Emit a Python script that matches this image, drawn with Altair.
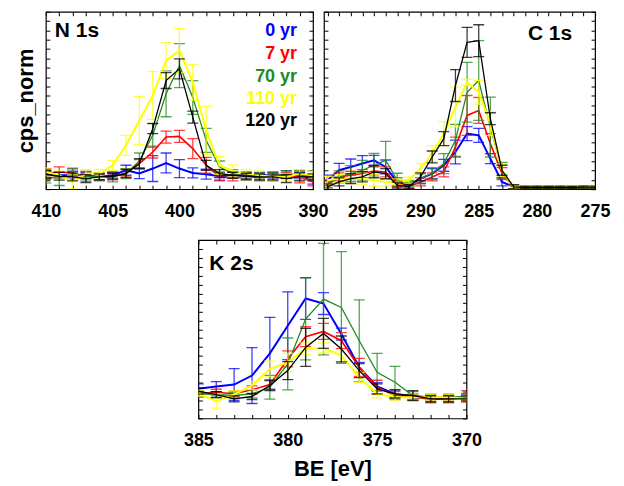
import altair as alt
import pandas as pd

SERIES = ["0 yr", "7 yr", "70 yr", "110 yr", "120 yr"]
COLORS = ["#0000ff", "#ff0000", "#1f8a1f", "#ffff00", "#000000"]
WIDTHS = [2.0, 1.6, 1.3, 2.0, 1.3]

# ---------------- N 1s ----------------
N1S_BE = [410, 409, 408, 407, 406, 405, 404, 403, 402, 401, 400,
          399, 398, 397, 396, 395, 394, 393, 392, 391, 390]
N1S_Y = {
    "0 yr":   [14, 14, 14, 14, 12.3, 14, 19, 15.7, 20.7, 26.3, 20.7, 16.3, 15, 13, 14, 14, 14, 14, 14.7, 14, 9],
    "7 yr":   [15.7, 17.3, 16.3, 13, 12.3, 12.3, 16.3, 25.7, 37.3, 52.3, 53, 40.7, 24, 12.3, 11.3, 12.3, 12.3, 12.3, 14, 12.3, 7.3],
    "70 yr":  [12.3, 10.7, 15, 13, 12.3, 12.3, 15.7, 28.3, 54, 95.7, 124, 92, 49, 22.3, 15.7, 13, 12.3, 13, 15.7, 14, 13],
    "110 yr": [17.3, 14, 7.3, 15.7, 15.7, 24, 44, 69, 94, 129, 139, 107.3, 59, 24, 18.3, 15.7, 14, 12.3, 12.3, 15.7, 14],
    "120 yr": [15, 13, 12.3, 10.7, 12.3, 13, 15.7, 25.7, 60.7, 109, 120.7, 72.3, 24, 15.7, 14, 13, 12.3, 12.3, 10.7, 12.3, 12.3],
}
N1S_ERR = {
    "0 yr":   [4, 3, 4, 3, 3, 3, 5, 5, 13, 10, 9, 5, 5, 4, 3, 3, 3, 3, 4, 3, 4],
    "7 yr":   [5, 5, 4, 3, 3, 3, 4, 4, 6, 6, 6, 10, 8, 4, 3, 3, 3, 4, 3, 6, 4],
    "70 yr":  [6, 7, 6, 5, 4, 5, 5, 8, 12, 23, 22, 17, 12, 6, 4, 4, 4, 4, 3, 5, 5],
    "110 yr": [4, 4, 7, 4, 4, 5, 10, 24, 24, 18, 22, 18, 24, 9, 6, 4, 4, 3, 3, 4, 4],
    "120 yr": [4, 4, 4, 4, 3, 3, 4, 5, 5, 8, 10, 6, 5, 4, 3, 3, 3, 3, 4, 4, 3],
}

# ---------------- C 1s ----------------
C1S_BE = [298, 297, 296, 295, 294, 293, 292, 291, 290, 289, 288, 287,
          286, 285, 284, 283, 282, 281, 280, 279, 278, 277, 276, 275]
C1S_Y = {
    "0 yr":   [9, 19, 22.3, 25.7, 29, 22.3, 7.3, 4, 10.7, 15.7, 24, 37.3, 55.7, 54, 30.7, 7.3, 2.3, 1.7, 1.7, 1.7, 1.7, 1.7, 1.7, 2],
    "7 yr":   [5.7, 12.3, 14, 15.7, 18.3, 17.3, 5.7, 3, 7.3, 12.3, 17.3, 42.3, 74, 79, 45.7, 15.7, 2.3, 1.7, 1.7, 1.7, 1.7, 1.7, 2.3, 2],
    "70 yr":  [4, 12.3, 15.7, 19, 24, 29, 9, 5.7, 10.7, 15.7, 25.7, 49, 97.3, 109, 62.3, 19, 2.3, 1.7, 1.7, 1.7, 1.7, 1.7, 2, 2.3],
    "110 yr": [9, 10.7, 10.7, 10.7, 9, 7.3, 7.3, 9, 20.7, 35.7, 55.7, 82.3, 107.3, 97.3, 65.7, 19, 1.7, 1.7, 1.7, 1.7, 1.7, 2, 2.3, 2.7],
    "120 yr": [2.3, 7.3, 10.7, 12.3, 17.3, 15.7, 4, 2.3, 12.3, 32.3, 50.7, 104, 147.3, 149, 70.7, 19, 2.3, 1.7, 1.7, 1.7, 1.7, 1.7, 2, 2],
}
C1S_ERR = {
    "0 yr":   [5, 7, 8, 8, 5, 7, 4, 3, 5, 5, 6, 12, 7, 7, 5, 4, 2, 1, 1, 1, 1, 1, 1, 1],
    "7 yr":   [4, 4, 4, 4, 4, 5, 3, 2, 4, 4, 5, 10, 20, 13, 10, 6, 2, 1, 1, 1, 1, 1, 1, 1],
    "70 yr":  [4, 6, 8, 10, 12, 19, 7, 3, 5, 6, 10, 16, 30, 40, 30, 8, 2, 1, 1, 1, 1, 1, 1, 1],
    "110 yr": [4, 4, 5, 6, 6, 4, 3, 3, 5, 8, 12, 20, 3, 12, 12, 6, 2, 1, 1, 1, 1, 1, 1, 1],
    "120 yr": [3, 4, 5, 5, 6, 5, 3, 2, 4, 6, 7, 16, 15, 16, 6, 5, 2, 1, 1, 1, 1, 1, 1, 1],
}

# ---------------- K 2s ----------------
K2S_BE = [385, 384, 383, 382, 381, 380, 379, 378, 377, 376, 375, 374, 373, 372, 371, 370]
K2S_Y = {
    "0 yr":   [29.7, 32, 34, 43, 65.3, 93, 120.3, 115.3, 84.7, 51.3, 32, 24.7, 21.3, 19.7, 19.7, 21.3],
    "7 yr":   [24.7, 26.3, 24.7, 28.7, 34, 59.7, 82, 87.3, 78, 51.3, 31.3, 23, 21.3, 19.7, 19.7, 23],
    "70 yr":  [24.7, 24, 23, 24.7, 31.3, 54.7, 99.7, 119.7, 111.3, 78, 46.3, 36.3, 23, 21.3, 21.3, 22],
    "110 yr": [25.3, 17.3, 24, 33, 49.7, 56.3, 69.7, 70.7, 63, 41.3, 24.7, 21.3, 21.3, 21.3, 21.3, 19.7],
    "120 yr": [27.3, 24, 19.7, 22, 33, 48, 71.3, 85.3, 69.7, 48, 29.7, 24.7, 23, 19.7, 19.7, 19.7],
}
K2S_ERR = {
    "0 yr":   [5, 5, 16, 28, 36, 34, 21, 11, 6, 5, 4, 4, 3, 3, 3, 3],
    "7 yr":   [3, 3, 3, 4, 5, 8, 10, 8, 8, 9, 7, 4, 3, 4, 4, 5],
    "70 yr":  [3, 3, 3, 4, 12, 26, 41, 56, 56, 41, 19, 16, 4, 3, 3, 3],
    "110 yr": [3, 7, 4, 4, 8, 9, 6, 5, 6, 5, 4, 3, 3, 3, 3, 3],
    "120 yr": [3, 3, 3, 3, 5, 9, 19, 15, 13, 7, 5, 4, 5, 3, 3, 3],
}

FONT = "Liberation Sans"


def panel(be, ys, errs, xdom, ymax, nyt, width, height, texts,
          ytitle=None, xtitle=None):
    xs = alt.Scale(domain=xdom, reverse=True, nice=False, zero=False)
    ysc = alt.Scale(domain=[0, ymax], nice=False, zero=False)
    lo_x = int(min(xdom)) if min(xdom) == int(min(xdom)) else int(min(xdom)) + 1
    xvals = list(range(lo_x, int(max(xdom)) + 1))
    yvals = [i * ymax / nyt for i in range(nyt + 1)]
    layers = []
    for name, color, w in zip(SERIES, COLORS, WIDTHS):
        df = pd.DataFrame({"BE": be, "v": ys[name]})
        df["lo"] = [a - b for a, b in zip(ys[name], errs[name])]
        df["hi"] = [a + b for a, b in zip(ys[name], errs[name])]
        eb = alt.Chart(df).mark_errorbar(
            ticks={"size": 11}, color=color, thickness=1.3, opacity=0.75, clip=True
        ).encode(
            x=alt.X("BE:Q", scale=xs, axis=None),
            y=alt.Y("lo:Q", scale=ysc, axis=None),
            y2="hi:Q",
        )
        ln = alt.Chart(df).mark_line(color=color, strokeWidth=w, clip=True).encode(
            x=alt.X("BE:Q", scale=xs, axis=None),
            y=alt.Y("v:Q", scale=ysc, axis=None),
        )
        layers += [eb, ln]

    base_df = pd.DataFrame({"BE": be, "v": ys[SERIES[0]]})
    common = dict(domain=False, tickSize=4, tickColor="black", tickWidth=1,
                  offset=-4, grid=False)
    xaxis = alt.Axis(orient="bottom", values=xvals,
                     labelExpr="datum.value % 5 === 0 ? datum.label : ''",
                     labelFont=FONT, labelFontWeight="bold", labelFontSize=18,
                     labelColor="black", labelPadding=13, labelFlush=False,
                     labelOverlap=False, labelBound=False,
                     titleFont=FONT, titleFontWeight="bold", titleFontSize=22,
                     titleColor="black", titlePadding=9, **common)
    yaxis = alt.Axis(orient="left", values=yvals, labels=False,
                     titleFont=FONT, titleFontWeight="bold", titleFontSize=22,
                     titleColor="black", titlePadding=8, **common)
    axes1 = alt.Chart(base_df).mark_point(opacity=0).encode(
        x=alt.X("BE:Q", scale=xs, axis=xaxis, title=xtitle),
        y=alt.Y("v:Q", scale=ysc, axis=yaxis, title=ytitle),
    )
    axes2 = alt.Chart(base_df).mark_point(opacity=0).encode(
        x=alt.X("BE:Q", scale=xs, title=None,
                axis=alt.Axis(orient="top", values=xvals, labels=False, **common)),
        y=alt.Y("v:Q", scale=ysc, title=None,
                axis=alt.Axis(orient="right", values=yvals, labels=False, **common)),
    )
    layers += [axes1, axes2]
    for t, color, x, y, align, size in texts:
        layers.append(
            alt.Chart(base_df.head(1)).mark_text(
                font=FONT, fontWeight="bold", fontSize=size, color=color,
                align=align, baseline="alphabetic"
            ).encode(x=alt.value(x), y=alt.value(y), text=alt.value(t))
        )
    return alt.layer(*layers).resolve_axis(x="independent", y="independent").properties(
        width=width, height=height)


n1s_texts = [("N 1s", "black", 9, 25, "left", 21)]
legend_y = [24, 47, 70, 93, 115]
for name, color, yy in zip(SERIES, COLORS, legend_y):
    n1s_texts.append((name, color, 252, yy, "right", 18))

n1s = panel(N1S_BE, N1S_Y, N1S_ERR, [390, 410], 178, 19, 268, 178, n1s_texts,
            ytitle="cps_norm")
c1s = panel(C1S_BE, C1S_Y, C1S_ERR, [275, 298.3], 178, 19, 272, 178,
            [("C 1s", "black", 249, 28, "right", 21)])
k2s = panel(K2S_BE, K2S_Y, K2S_ERR, [370, 385], 179, 20, 269, 179,
            [("K 2s", "black", 11, 30, "left", 21)], xtitle="BE [eV]")

spacer = alt.Chart(pd.DataFrame({"a": [0]})).mark_point(opacity=0).encode(
    x=alt.value(0), y=alt.value(0)
).properties(width=153, height=179, view=alt.ViewBackground(strokeOpacity=0))

top = alt.hconcat(n1s, c1s, spacing=11, bounds="flush")
bottom = alt.hconcat(spacer, k2s, spacing=0, bounds="flush")
chart = alt.vconcat(top, bottom, spacing=16).configure_view(
    stroke="black", strokeWidth=1.2
).properties(padding={"left": 5, "top": 1, "right": 5, "bottom": 5})

chart.save("out.html", embed_options={"renderer": "svg", "actions": False})
